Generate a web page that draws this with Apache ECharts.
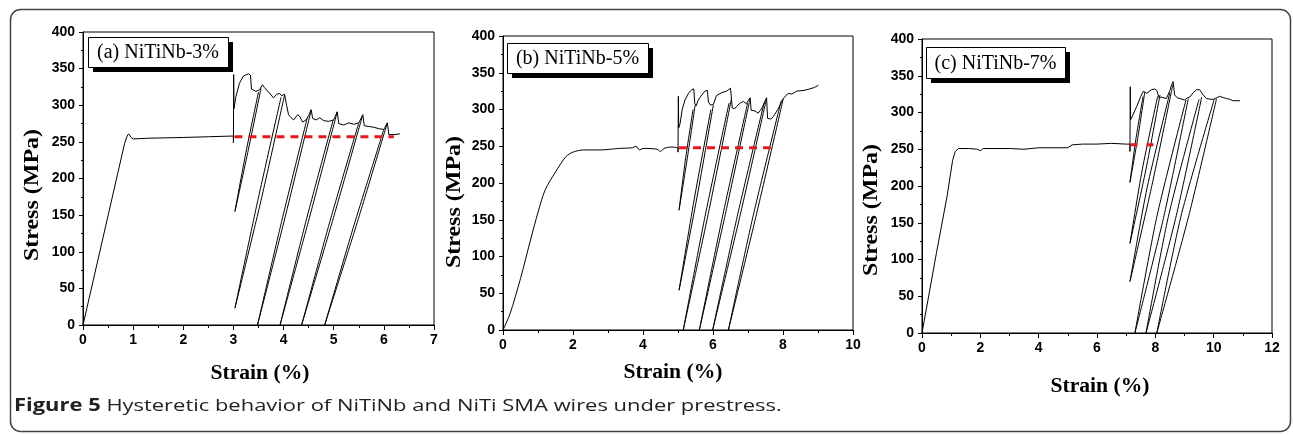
<!DOCTYPE html>
<html><head><meta charset="utf-8">
<script src="https://cdn.jsdelivr.net/npm/echarts/dist/echarts.min.js"></script>
<style>html,body{margin:0;padding:0;background:#fff}#c{width:1293px;height:435px}</style>
</head><body><div id="c"></div>
<script>
// ---------- texts / ticks ----------
const panelLabels = ['(a) NiTiNb-3%', '(b) NiTiNb-5%', '(c) NiTiNb-7%'];
const xAxisTitle = 'Strain (%)';
const yAxisTitle = 'Stress (MPa)';
const captionBold = 'Figure 5';
const captionText = ' Hysteretic behavior of NiTiNb and NiTi SMA wires under prestress.';
const xMaxes = [7, 10, 12];
const xIntervals = [1, 2, 2];
const yMax = 400, yInterval = 50;

// ---------- panel (a) NiTiNb-3% ----------
const aLoad = [[0,0],[0.83,248],[0.88,258],[0.91,261],[0.96,256],[1.0,254],[1.3,255],[2.0,256],[2.5,257],[3.0,258]];
const aEnvelope = [[3.0,258],[3.0,249],[3.005,342],[3.01,295],[3.05,312],[3.12,330],[3.2,340],[3.3,343],[3.34,341],[3.36,322],[3.45,319],[3.52,321],[3.58,328],[3.62,324],[3.7,318],[3.8,310],[3.86,315],[3.92,316],[3.96,313],[4.02,315],[4.06,300],[4.1,287],[4.15,283],[4.2,280],[4.28,287],[4.32,285],[4.38,277],[4.45,280],[4.5,286],[4.55,294],[4.58,282],[4.65,280],[4.72,283],[4.8,279],[4.9,278],[5.0,280],[5.07,291],[5.1,275],[5.2,273],[5.3,276],[5.4,274],[5.5,276],[5.58,287],[5.61,272],[5.7,271],[5.8,270],[5.9,268],[6.0,267],[6.07,276],[6.1,260],[6.2,260],[6.32,261]];
const aLoops = [
  [[3.55,323],[3.30,240],[3.03,155],[3.25,236],[3.5,318]],
  [[4.02,314],[3.55,170],[3.03,23],[3.47,165],[3.95,311]],
  [[4.55,293],[4.03,147],[3.48,0],[3.96,141],[4.47,282]],
  [[5.07,291],[4.51,145],[3.93,0],[4.44,140],[4.99,280]],
  [[5.58,287],[4.98,143],[4.36,0],[4.91,138],[5.5,276]],
  [[6.07,276],[5.46,138],[4.82,0],[5.39,133],[6.0,267]]
];
const aPrestress = [[3.02,257],[6.2,257]];

// ---------- panel (b) NiTiNb-5% ----------
const bLoad = [[0,0],[0.2,22],[0.5,70],[0.8,125],[1.0,160],[1.2,190],[1.5,215],[1.8,236],[2.0,242],[2.3,245],[2.8,245],[3.3,247],[3.7,248],[3.8,250],[3.9,245],[4.0,247],[4.4,246],[4.5,243],[4.6,247],[4.8,249],[5.0,248]];
const bEnvelope = [[5.0,248],[5.0,242],[5.01,318],[5.02,275],[5.06,281],[5.12,300],[5.2,313],[5.3,322],[5.39,327],[5.45,328],[5.48,308],[5.52,305],[5.57,312],[5.65,318],[5.77,325],[5.84,326],[5.87,310],[5.93,306],[6.01,307],[6.1,319],[6.25,323],[6.39,325],[6.5,329],[6.53,328],[6.55,302],[6.62,301],[6.67,304],[6.78,309],[6.87,311],[6.95,308],[7.06,316],[7.09,299],[7.2,298],[7.29,295],[7.4,302],[7.53,316],[7.56,288],[7.65,287],[7.72,290],[7.85,300],[8.01,315],[8.15,322],[8.25,321],[8.39,325],[8.6,326],[8.77,328],[8.9,330],[9.01,333]];
const bLoops = [
  [[5.49,306],[5.27,235],[5.03,163],[5.21,231],[5.43,300]],
  [[6.01,306],[5.54,180],[5.03,54],[5.46,177],[5.94,300]],
  [[6.53,315],[5.86,157],[5.15,0],[5.77,154],[6.46,309]],
  [[7.06,315],[6.35,157],[5.61,0],[6.27,154],[6.99,309]],
  [[7.53,315],[6.78,157],[5.99,0],[6.69,154],[7.46,309]],
  [[8.01,315],[7.24,157],[6.44,0],[7.15,156],[7.95,312]]
];
const bPrestress = [[5.03,248],[7.65,248]];

// ---------- panel (c) NiTiNb-7% ----------
const cLoad = [[0,0],[0.5,110],[0.86,186],[1.05,235],[1.14,247],[1.25,251],[1.6,251],[1.9,250],[2.0,248],[2.1,251],[3.0,251],[3.5,250],[4.0,252],[4.5,252],[5.0,252],[5.15,256],[5.5,257],[6.0,257],[6.5,258],[7.0,257],[7.13,257]];
const cEnvelope = [[7.13,257],[7.13,247],[7.14,335],[7.15,290],[7.2,294],[7.36,308],[7.5,322],[7.59,329],[7.64,331],[7.7,326],[7.76,324],[7.87,331],[7.98,332],[8.05,330],[8.1,328],[8.13,320],[8.2,321],[8.38,319],[8.5,330],[8.56,338],[8.61,342],[8.66,324],[8.75,320],[8.84,319],[9.0,317],[9.1,320],[9.18,321],[9.3,327],[9.41,331],[9.52,331],[9.64,324],[9.75,319],[9.9,318],[10.0,318],[10.1,320],[10.2,322],[10.35,320],[10.44,319],[10.55,318],[10.66,316],[10.8,316],[10.9,316]];
const cLoops = [
  [[7.64,328],[7.40,266],[7.13,205],[7.33,263],[7.58,322]],
  [[8.16,324],[7.68,223],[7.13,122],[7.55,222],[8.08,322]],
  [[8.6,338],[7.90,204],[7.13,70],[7.72,198],[8.5,327]],
  [[9.13,319],[8.30,160],[7.30,0],[8.05,158],[9.05,317]],
  [[9.59,321],[8.72,160],[7.68,0],[8.45,159],[9.5,318]],
  [[10.1,319],[9.15,160],[8.05,0],[8.88,159],[10.02,318]]
];
const cPrestress = [[7.15,256],[7.95,256]];

// ---------- build chart ----------
const panels = [
  {load:aLoad, env:aEnvelope, loops:aLoops, pre:aPrestress, dash:[8,6]},
  {load:bLoad, env:bEnvelope, loops:bLoops, pre:bPrestress, dash:[8,6]},
  {load:cLoad, env:cEnvelope, loops:cLoops, pre:cPrestress, dash:[7,9]}
];
const grids = [
  {left:83, top:32, width:351, height:293},
  {left:503, top:36, width:350, height:294},
  {left:922, top:39, width:350, height:294}
];
const labelBoxes = [
  {x:88, y:37, w:140, h:30},
  {x:507, y:43, w:141, h:30},
  {x:926, y:47, w:139, h:31}
];
const yTitlePos = [[33,195],[455,202],[872,210]];
const xTitlePos = [[260,374],[673,373],[1100,387]];

const tickRich = {t:{color:'#000', fontFamily:'"Liberation Sans", Arial, sans-serif', fontWeight:'bold', fontSize:14}};
const xAxes = [], yAxes = [], series = [], graphic = [];
grids.forEach((g, i) => {
  g.show = true; g.borderColor = '#000'; g.borderWidth = 1; g.backgroundColor = 'transparent';
  xAxes.push({type:'value', gridIndex:i, min:0, max:xMaxes[i], interval:xIntervals[i],
    axisLine:{show:true, onZero:false, lineStyle:{color:'#000', width:1}},
    axisTick:{show:true, inside:false, length:5, lineStyle:{color:'#000'}},
    minorTick:{show:true, splitNumber:2, length:3, lineStyle:{color:'#000'}},
    splitLine:{show:false}, minorSplitLine:{show:false},
    axisLabel:{margin:8, formatter:'{t|{value}}', rich:tickRich}});
  yAxes.push({type:'value', gridIndex:i, min:0, max:yMax, interval:yInterval,
    axisLine:{show:true, onZero:false, lineStyle:{color:'#000', width:1}},
    axisTick:{show:true, inside:false, length:4, lineStyle:{color:'#000'}},
    minorTick:{show:true, splitNumber:2, length:2, lineStyle:{color:'#000'}},
    splitLine:{show:false}, minorSplitLine:{show:false},
    axisLabel:{margin:8, formatter:'{t|{value}}', rich:tickRich}});
  const p = panels[i];
  const base = {type:'line', xAxisIndex:i, yAxisIndex:i, symbol:'none', showSymbol:false, silent:true,
    animation:false, lineStyle:{color:'#000', width:1}, z:2};
  series.push(Object.assign({}, base, {data:p.load, smooth: i===1 ? 0.3 : false}));
  series.push(Object.assign({}, base, {data:p.env}));
  p.loops.forEach(l => series.push(Object.assign({}, base, {data:l, smooth:0.25})));
  series.push(Object.assign({}, base, {data:p.pre, z:5,
    lineStyle:{color:'#e3191c', width:3, type:p.dash}}));
  // label box with shadow
  const b = labelBoxes[i];
  graphic.push({type:'rect', left:b.x+5, top:b.y+5, shape:{width:b.w, height:b.h}, style:{fill:'#000'}, z:10});
  graphic.push({type:'rect', left:b.x, top:b.y, shape:{width:b.w, height:b.h}, style:{fill:'#fff', stroke:'#000', lineWidth:1}, z:11});
  graphic.push({type:'text', x:b.x + b.w/2, y:b.y + b.h/2 + 1, z:12,
    style:{text:panelLabels[i], font:'20px "Liberation Serif", "Times New Roman", serif', fill:'#000', textAlign:'center', textVerticalAlign:'middle'}});
  // axis titles
  graphic.push({type:'text', x:yTitlePos[i][0], y:yTitlePos[i][1], rotation:Math.PI/2, scaleX:1.2, z:12,
    style:{text:yAxisTitle, font:'bold 20px "Liberation Serif", "Times New Roman", serif', fill:'#000', textAlign:'center', textVerticalAlign:'middle'}});
  graphic.push({type:'text', x:xTitlePos[i][0], y:xTitlePos[i][1], scaleX:1.08, z:12,
    style:{text:xAxisTitle, font:'bold 20px "Liberation Serif", "Times New Roman", serif', fill:'#000', textAlign:'center', textVerticalAlign:'middle'}});
});
// outer frame
graphic.push({type:'rect', left:8, top:7, shape:{width:1280, height:422, r:10}, style:{fill:'none', stroke:'#444', lineWidth:1.5}, z:1});
// caption
graphic.push({type:'text', x:14, y:406, scaleX:1.29, z:12,
  style:{text:'{b|' + captionBold + '}{n|' + captionText + '}', textVerticalAlign:'middle',
    rich:{b:{font:'bold 17px "Open Sans", sans-serif', fill:'#222'}, n:{font:'17px "Open Sans", sans-serif', fill:'#222'}}}});

const chart = echarts.init(document.getElementById('c'), null, {renderer:'canvas'});
chart.setOption({animation:false, backgroundColor:'#fff', grid:grids, xAxis:xAxes, yAxis:yAxes, series:series, graphic:graphic});
</script></body></html>
